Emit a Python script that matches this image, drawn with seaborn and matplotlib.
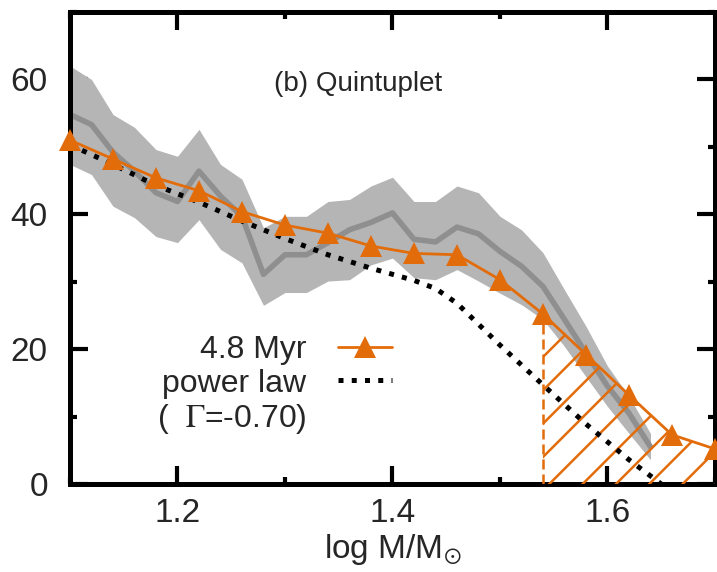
"""
Quintuplet mass function: observed band vs 4.8 Myr model and power law.
"""

import numpy as np
import matplotlib
matplotlib.use('Agg')
import matplotlib.pyplot as plt
import seaborn as sns
from matplotlib.lines import Line2D
from matplotlib.ticker import MultipleLocator

# Observed distribution (grey band + mean line), every 0.02 in log M
obs_logm = [1.10, 1.12, 1.14, 1.16, 1.18, 1.20, 1.22, 1.24, 1.26, 1.28,
            1.30, 1.32, 1.34, 1.36, 1.38, 1.40, 1.42, 1.44, 1.46, 1.48,
            1.50, 1.52, 1.54, 1.56, 1.58, 1.60, 1.62, 1.64]
obs_mean = [54.8, 53.3, 49.2, 46.4, 43.2, 41.9, 46.4, 42.7, 39.7, 31.1,
            34.0, 34.0, 35.8, 37.7, 38.8, 40.2, 36.3, 35.9, 38.1, 37.1,
            34.5, 32.3, 29.3, 24.4, 19.4, 14.5, 10.5, 5.5]
obs_upper = [62.0, 60.0, 54.8, 52.9, 49.6, 48.6, 52.6, 47.4, 45.2, 38.0,
             39.7, 39.7, 41.9, 42.2, 44.2, 45.5, 41.9, 41.9, 44.2, 43.2,
             39.7, 37.7, 34.3, 28.8, 23.4, 17.5, 13.0, 7.5]
obs_lower = [47.4, 45.9, 41.2, 39.5, 36.7, 35.8, 39.2, 34.8, 32.8, 26.5,
             28.4, 28.4, 30.1, 30.3, 32.5, 33.5, 30.6, 30.3, 31.8, 30.1,
             28.3, 26.6, 24.4, 20.4, 15.9, 11.5, 7.5, 3.6]

# 4.8 Myr model (orange triangles)
model_logm = [1.10, 1.14, 1.18, 1.22, 1.26, 1.30, 1.34, 1.38,
              1.42, 1.46, 1.50, 1.54, 1.58, 1.62, 1.66, 1.70]
model_n = [51.0, 48.2, 45.4, 43.5, 40.4, 38.4, 37.2, 35.3,
           34.2, 34.0, 30.3, 25.2, 19.2, 13.2, 7.3, 5.2]

# Power law (Gamma = -0.70), dotted
plaw_logm = [1.10, 1.14, 1.18, 1.22, 1.26, 1.30, 1.34, 1.38,
             1.42, 1.44, 1.46, 1.50, 1.54, 1.58, 1.62, 1.65]
plaw_n = [50.3, 47.4, 44.3, 41.8, 39.0, 36.4, 34.0, 32.0,
          30.2, 29.0, 26.8, 20.6, 14.7, 8.9, 3.6, 0.0]

HATCH_FROM = 1.54  # hatched area under the model above this mass

ORANGE = '#e36c0a'

sns.set_style('ticks')
plt.rcParams['font.family'] = ['Liberation Sans', 'DejaVu Sans']
plt.rcParams['mathtext.fontset'] = 'stix'
plt.rcParams['hatch.linewidth'] = 0.9

fig = plt.figure(figsize=(3.585, 2.86), dpi=200)
ax = fig.add_axes([0.0976, 0.1538, 0.8996, 0.8252])

# Observed band and mean
ax.fill_between(obs_logm, obs_lower, obs_upper, color='#b5b5b5', lw=0, zorder=1)
sns.lineplot(x=obs_logm, y=obs_mean, color='#8f8f8f', lw=2.0, ax=ax, zorder=2)

# Hatched region under the model
mx = np.array(model_logm)
my = np.array(model_n)
sel = mx >= HATCH_FROM - 1e-9
ax.fill_between(mx[sel], 0, my[sel], facecolor='none', edgecolor=ORANGE,
                hatch='//', lw=0, zorder=3)
ax.vlines(HATCH_FROM, 0, my[sel][0], colors=ORANGE, linestyles=(0, (4, 2)),
          lw=0.9, zorder=3)

# Power law and model
sns.lineplot(x=plaw_logm, y=plaw_n, color='black', lw=1.8, linestyle=':',
             label='power law', zorder=4, ax=ax)
sns.lineplot(x=model_logm, y=model_n, color=ORANGE, lw=1.0, marker='^',
             markersize=8, markeredgewidth=0, label='4.8 Myr',
             clip_on=False, zorder=5, ax=ax)

# Legend (text right-aligned, sample on the right)
handles, labels = ax.get_legend_handles_labels()
order = [labels.index('4.8 Myr'), labels.index('power law')]
handles = [handles[i] for i in order] + [Line2D([], [], color='none')]
labels = [labels[i] for i in order] + ['(  $\\Gamma$=-0.70)']
ax.legend(handles, labels, loc='upper right', bbox_to_anchor=(0.50, 0.315),
          frameon=False, markerfirst=False, fontsize=11.5, handlelength=1.7,
          handletextpad=1.0, labelspacing=0.1, borderaxespad=0, borderpad=0)

ax.text(0.447, 0.848, '(b) Quintuplet', transform=ax.transAxes,
        ha='center', va='center', fontsize=10)

ax.set_xlim(1.1, 1.7)
ax.set_ylim(0, 70)
ax.xaxis.set_major_locator(MultipleLocator(0.2))
ax.xaxis.set_minor_locator(MultipleLocator(0.1))
ax.yaxis.set_major_locator(MultipleLocator(20))
ax.yaxis.set_minor_locator(MultipleLocator(10))
ax.tick_params(which='both', direction='in', top=True, right=True,
               width=1.5, color='black', labelsize=12)
ax.tick_params(which='major', length=6.5)
ax.tick_params(which='minor', length=2.5)
ax.tick_params(axis='y', pad=8)
ax.tick_params(axis='x', pad=5)
for sp in ax.spines.values():
    sp.set_linewidth(1.8)
    sp.set_color('black')

ax.set_xlabel('log M/M$_{\\odot}$', fontsize=12, labelpad=1)
ax.set_ylabel('')

plt.savefig('out.png', dpi=200)
